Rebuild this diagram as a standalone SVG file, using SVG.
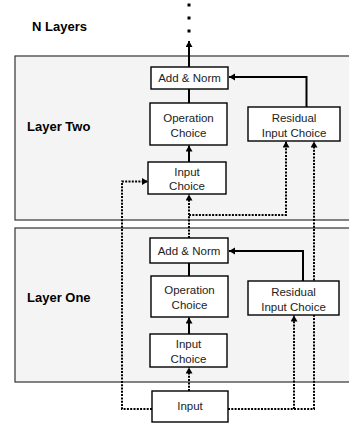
<svg xmlns="http://www.w3.org/2000/svg" width="349" height="426" viewBox="0 0 349 426">
<defs>
<marker id="ah" markerUnits="userSpaceOnUse" markerWidth="8" markerHeight="8" refX="6" refY="3.5" orient="auto">
<path d="M0,0 L6,3.5 L0,7 Z" fill="#000"/>
</marker>
</defs>
<style>
.panel{fill:#f4f4f4;stroke:#333;stroke-width:1.2}
.box{fill:#fff;stroke:#000;stroke-width:1.4}
.t{font-family:"Liberation Sans",Arial,sans-serif;font-size:11.5px;fill:#222;text-anchor:middle}
.h{font-family:"Liberation Sans",Arial,sans-serif;font-size:13px;font-weight:bold;fill:#000}
.solid{fill:none;stroke:#000;stroke-width:2}
.dot{fill:none;stroke:#000;stroke-width:2;stroke-dasharray:2 1.3}
</style>
<rect width="349" height="426" fill="#fff"/>
<g id="panel-two"><rect class="panel" x="15" y="56" width="345" height="164"/><text class="h" x="27" y="131">Layer Two</text></g>
<g id="panel-one"><rect class="panel" x="15" y="228" width="345" height="154"/><text class="h" x="27" y="302">Layer One</text></g>
<g id="title"><text class="h" x="32" y="31">N Layers</text>
<rect x="187.5" y="3.5" width="3" height="3" fill="#000"/><rect x="187.5" y="16.5" width="3" height="3" fill="#000"/><rect x="187.5" y="29.5" width="3" height="3" fill="#000"/></g>
<g id="connectors">
<path class="solid" d="M189,67 V41" marker-end="url(#ah)"/>
<path class="solid" d="M306.5,107 V77 H229" marker-end="url(#ah)"/>
<path class="solid" d="M189,103 V89"/>
<path class="solid" d="M189,162 V145.5" marker-end="url(#ah)"/>
<path class="dot" d="M189,238 V194.5" marker-end="url(#ah)"/>
<path class="dot" d="M189,215 H286 V141.5" marker-end="url(#ah)"/>
<path class="dot" d="M228,409 H314 V141.5" marker-end="url(#ah)"/>
<path class="dot" d="M152,409 H122 V181.5 H148" marker-end="url(#ah)"/>
<path class="solid" d="M189,276 V263"/>
<path class="solid" d="M189,334 V317.5" marker-end="url(#ah)"/>
<path class="solid" d="M303,281 V251 H229" marker-end="url(#ah)"/>
<path class="dot" d="M189,391 V367.5" marker-end="url(#ah)"/>
<path class="dot" d="M294,409 V315.5" marker-end="url(#ah)"/>
</g>
<g id="l2-addnorm"><rect class="box" x="151" y="67" width="77" height="22"/><text class="t" x="189.5" y="82">Add &amp; Norm</text></g>
<g id="l2-op"><rect class="box" x="150" y="103" width="77" height="42"/><text class="t" x="188.5" y="122">Operation</text><text class="t" x="188.5" y="137">Choice</text></g>
<g id="l2-res"><rect class="box" x="248" y="107" width="92" height="34"/><text class="t" x="294" y="122">Residual</text><text class="t" x="294" y="136.5">Input Choice</text></g>
<g id="l2-input"><rect class="box" x="148" y="162" width="78" height="32"/><text class="t" x="187" y="176">Input</text><text class="t" x="187" y="190">Choice</text></g>
<g id="l1-addnorm"><rect class="box" x="150" y="238" width="78" height="25"/><text class="t" x="189" y="255">Add &amp; Norm</text></g>
<g id="l1-op"><rect class="box" x="151" y="276" width="77" height="41"/><text class="t" x="189.5" y="294">Operation</text><text class="t" x="189.5" y="309">Choice</text></g>
<g id="l1-res"><rect class="box" x="248" y="281" width="91" height="34"/><text class="t" x="293.5" y="296">Residual</text><text class="t" x="293.5" y="310.5">Input Choice</text></g>
<g id="l1-input"><rect class="box" x="150" y="334" width="77" height="33"/><text class="t" x="188.5" y="348">Input</text><text class="t" x="188.5" y="363">Choice</text></g>
<g id="input"><rect class="box" x="152" y="391" width="76" height="31"/><text class="t" x="190" y="410">Input</text></g>
</svg>
